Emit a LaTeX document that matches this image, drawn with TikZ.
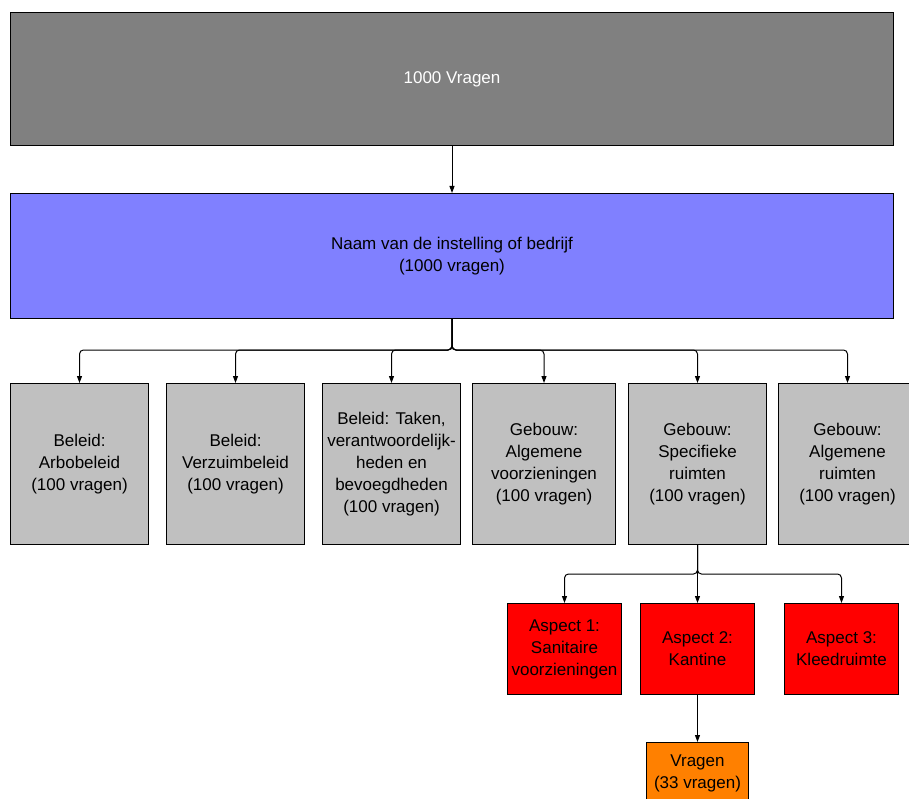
\documentclass[tikz,border=0pt]{standalone}
\usepackage{fontspec}
\setmainfont{Liberation Sans}
\usetikzlibrary{arrows.meta,positioning}

\definecolor{donker}{HTML}{808080}
\definecolor{blauw}{HTML}{8080FF}
\definecolor{grijs}{HTML}{C0C0C0}
\definecolor{rood}{HTML}{FF0000}
\definecolor{oranje}{HTML}{FF8000}

\begin{document}
\begin{tikzpicture}[
    x = 1pt, y = -1pt, % pixel grid, y runs downwards
    > = {Triangle[length=7pt,width=5pt]}, % arrow head style
    font = \fontsize{17}{22}\selectfont,
    line width = 1pt % line style
    ]

    \tikzset{box/.style={
    draw = black,
    inner sep = 0pt,
    align = center,
    anchor = north west
    }}
    \tikzset{conn/.style={
    ->,
    rounded corners = 4pt
    }}
    \useasboundingbox (0,0) rectangle (909,799);

    \node[box, fill=donker, text=white, minimum width=883pt, minimum height=133pt] (top) at (10,12) {1000 Vragen};
    \node[box, fill=blauw, minimum width=883pt, minimum height=125pt] (naam) at (10,193) {Naam van de instelling of bedrijf\\(1000 vragen)};

    \tikzset{grijsbox/.style={box, fill=grijs, minimum width=138pt, minimum height=161pt}}
    \node[grijsbox] (b1) at (10,383) {Beleid:\\Arbobeleid\\(100 vragen)};
    \node[grijsbox] (b2) at (166,383) {Beleid:\\Verzuimbeleid\\(100 vragen)};
    \node[grijsbox] (b3) at (322,383) {Beleid: Taken,\\verantwoordelijk-\\heden en\\bevoegdheden\\(100 vragen)};
    \node[grijsbox, minimum width=143pt] (b4) at (472,383) {Gebouw:\\Algemene\\voorzieningen\\(100 vragen)};
    \node[grijsbox] (b5) at (628,383) {Gebouw:\\Specifieke\\ruimten\\(100 vragen)};
    \node[grijsbox] (b6) at (778,383) {Gebouw:\\Algemene\\ruimten\\(100 vragen)};

    \tikzset{roodbox/.style={box, fill=rood, minimum width=114pt, minimum height=91pt}}
    \node[roodbox] (a1) at (507,603) {Aspect 1:\\Sanitaire\\voorzieningen};
    \node[roodbox] (a2) at (640,603) {Aspect 2:\\Kantine};
    \node[roodbox] (a3) at (784,603) {Aspect 3:\\Kleedruimte};

    \node[box, fill=oranje, minimum width=102pt, minimum height=62pt] (vr) at (646,742) {Vragen\\(33 vragen)};

    \draw[conn] (top) -- (naam);
    \foreach \i in {1,...,6}
        \draw[conn] (naam.south) -- ++(0,31) -| (b\i.north);
    \foreach \i in {1,2,3}
        \draw[conn] (b5.south) -- ++(0,29) -| (a\i.north);
    \draw[conn] (a2) -- (vr);
\end{tikzpicture}
\end{document}
